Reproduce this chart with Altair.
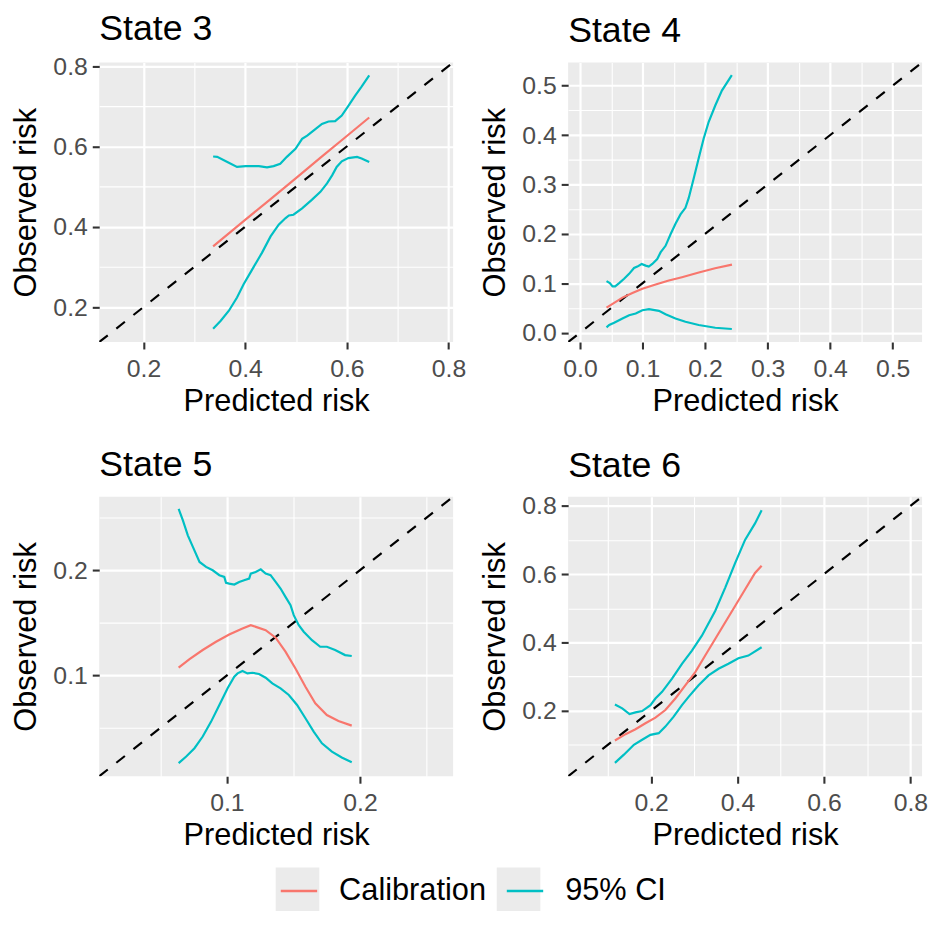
import altair as alt
import pandas as pd

FONT = "Liberation Sans"
CAL_COLOR = "#F8766D"
CI_COLOR = "#00BFC4"
PANEL_BG = "#EBEBEB"

states = ["State 3", "State 4", "State 5", "State 6"]
legend_labels = ["Calibration", "95% CI"]

# ---------------- State 3 ----------------
s3_cal_x = [0.337, 0.400, 0.450, 0.500, 0.550, 0.600, 0.644]
s3_cal_y = [0.351, 0.417, 0.469, 0.521, 0.574, 0.626, 0.672]
s3_up_x = [0.337, 0.345, 0.365, 0.384, 0.401, 0.427, 0.443, 0.456, 0.469, 0.482, 0.499,
           0.512, 0.522, 0.535, 0.551, 0.564, 0.577, 0.590, 0.603, 0.616, 0.629, 0.644]
s3_up_y = [0.575, 0.574, 0.561, 0.549, 0.551, 0.551, 0.548, 0.551, 0.557, 0.574, 0.594,
           0.619, 0.627, 0.640, 0.656, 0.662, 0.663, 0.677, 0.701, 0.726, 0.749, 0.777]
s3_lo_x = [0.337, 0.352, 0.368, 0.384, 0.397, 0.414, 0.433, 0.450, 0.466, 0.479, 0.486, 0.495,
           0.512, 0.531, 0.548, 0.561, 0.571, 0.580, 0.590, 0.603, 0.620, 0.629, 0.644]
s3_lo_y = [0.146, 0.166, 0.191, 0.224, 0.257, 0.294, 0.335, 0.376, 0.405, 0.421, 0.428, 0.430,
           0.446, 0.467, 0.487, 0.508, 0.528, 0.549, 0.563, 0.571, 0.574, 0.570, 0.561]

# ---------------- State 4 ----------------
s4_cal_x = [0.0424, 0.0546, 0.0679, 0.0838, 0.0997, 0.121, 0.142, 0.163, 0.190, 0.216, 0.243]
s4_cal_y = [0.0508, 0.0602, 0.0709, 0.0802, 0.0889, 0.0976, 0.1056, 0.1123, 0.1217, 0.1303, 0.1377]
s4_up_x = [0.0424, 0.0477, 0.0520, 0.0562, 0.0626, 0.0705, 0.0785, 0.0864, 0.0917, 0.0986,
           0.105, 0.110, 0.1156, 0.1235, 0.1288, 0.1368, 0.1448, 0.1527, 0.1607, 0.1686,
           0.1739, 0.1819, 0.1898, 0.1978, 0.2057, 0.2163, 0.2269, 0.2428]
s4_up_y = [0.1043, 0.1003, 0.0936, 0.0936, 0.1003, 0.109, 0.119, 0.131, 0.1337, 0.139,
           0.1357, 0.1337, 0.139, 0.149, 0.1624, 0.1758, 0.1992, 0.2206, 0.2393, 0.2527,
           0.2727, 0.3128, 0.3529, 0.393, 0.4265, 0.4599, 0.490, 0.5214]
s4_lo_x = [0.0424, 0.0467, 0.0546, 0.0679, 0.0785, 0.0891, 0.0997, 0.1103, 0.1262, 0.1368,
           0.1527, 0.1686, 0.1898, 0.2163, 0.2428]
s4_lo_y = [0.0107, 0.0154, 0.0201, 0.0287, 0.0354, 0.0388, 0.0455, 0.0475, 0.0441, 0.0374,
           0.0287, 0.0221, 0.0154, 0.0100, 0.0074]

# ---------------- State 5 ----------------
s5_cal_x = [0.0637, 0.0719, 0.0818, 0.0918, 0.1017, 0.1117, 0.1179, 0.1291, 0.1366, 0.1440,
            0.1515, 0.1590, 0.1664, 0.1751, 0.1838, 0.1938]
s5_cal_y = [0.1073, 0.1155, 0.1241, 0.1320, 0.1389, 0.1446, 0.1478, 0.1430, 0.1358, 0.1225,
            0.1066, 0.0892, 0.0734, 0.0623, 0.0566, 0.0522]
s5_up_x = [0.0637, 0.0669, 0.0706, 0.0744, 0.0794, 0.0843, 0.0893, 0.0943, 0.0980, 0.0993,
           0.1017, 0.1055, 0.1092, 0.1129, 0.1167, 0.1179, 0.1216, 0.1254, 0.1291, 0.1328,
           0.1366, 0.1403, 0.1440, 0.1478, 0.1502, 0.1540, 0.1577, 0.1639, 0.1701, 0.1751,
           0.1813, 0.1888, 0.1938]
s5_up_y = [0.2585, 0.2475, 0.2332, 0.2222, 0.2079, 0.2032, 0.2000, 0.1953, 0.1937, 0.1880,
           0.1873, 0.1864, 0.1889, 0.1905, 0.1921, 0.1968, 0.1984, 0.2009, 0.1968, 0.1953,
           0.1889, 0.1826, 0.1747, 0.1668, 0.1573, 0.1478, 0.1415, 0.1335, 0.1272, 0.1272,
           0.1241, 0.1193, 0.1184]
s5_lo_x = [0.0637, 0.0694, 0.0756, 0.0818, 0.0881, 0.0943, 0.1005, 0.1055, 0.1080, 0.1117,
           0.1154, 0.1192, 0.1241, 0.1291, 0.1341, 0.1403, 0.1465, 0.1527, 0.1590, 0.1652,
           0.1714, 0.1789, 0.1863, 0.1938]
s5_lo_y = [0.0165, 0.0228, 0.0307, 0.0418, 0.0560, 0.0718, 0.0877, 0.0987, 0.1019, 0.1041,
           0.1019, 0.1025, 0.1013, 0.0978, 0.0924, 0.0877, 0.0813, 0.0718, 0.0592, 0.0465,
           0.0354, 0.0275, 0.0218, 0.0174]

# ---------------- State 6 ----------------
s6_cal_x = [0.1163, 0.1408, 0.1639, 0.1869, 0.2100, 0.2330, 0.2561, 0.2791, 0.3022, 0.3252,
            0.3483, 0.3713, 0.3944, 0.4174, 0.4405, 0.4558]
s6_cal_y = [0.1129, 0.1313, 0.1458, 0.1632, 0.1797, 0.2019, 0.2358, 0.2745, 0.3132, 0.3616,
            0.4100, 0.4584, 0.5068, 0.5552, 0.6036, 0.6249]
s6_up_x = [0.1163, 0.1332, 0.1501, 0.1639, 0.1793, 0.1985, 0.2100, 0.2254, 0.2484, 0.2714,
           0.2945, 0.3175, 0.3483, 0.3713, 0.3944, 0.4174, 0.4405, 0.4558]
s6_up_y = [0.2184, 0.2068, 0.1903, 0.1952, 0.1990, 0.2165, 0.2358, 0.2552, 0.2939, 0.3374,
           0.3761, 0.4197, 0.4923, 0.5600, 0.6326, 0.7003, 0.7487, 0.7874]
s6_lo_x = [0.1163, 0.1370, 0.1601, 0.1793, 0.1985, 0.2177, 0.2330, 0.2522, 0.2714, 0.2868,
           0.3099, 0.3329, 0.3560, 0.3790, 0.4020, 0.4251, 0.4558]
s6_lo_y = [0.0471, 0.0713, 0.1003, 0.1148, 0.1294, 0.1342, 0.1535, 0.1826, 0.2165, 0.2406,
           0.2745, 0.3036, 0.3229, 0.3374, 0.3539, 0.3616, 0.3858]

# axis limits and tick/grid values
s3_domain = [0.113, 0.809]
s4_domain = [-0.019, 0.547]
s5_domain = [0.004, 0.270]
s6_domain = [0.008, 0.827]

s3_major = [0.2, 0.4, 0.6, 0.8]
s3_minor = [0.3, 0.5, 0.7]
s4_major = [0.0, 0.1, 0.2, 0.3, 0.4, 0.5]
s4_minor = [0.05, 0.15, 0.25, 0.35, 0.45]
s5_major = [0.1, 0.2]
s5_minor = [0.05, 0.15, 0.25]
s6_major = [0.2, 0.4, 0.6, 0.8]
s6_minor = [0.1, 0.3, 0.5, 0.7]


def build_df(cal_x, cal_y, up_x, up_y, lo_x, lo_y):
    parts = [
        pd.DataFrame({"x": cal_x, "y": cal_y, "type": legend_labels[0], "line": "cal"}),
        pd.DataFrame({"x": up_x, "y": up_y, "type": legend_labels[1], "line": "upper"}),
        pd.DataFrame({"x": lo_x, "y": lo_y, "type": legend_labels[1], "line": "lower"}),
    ]
    df = pd.concat(parts, ignore_index=True)
    df["order"] = range(len(df))
    return df


def make_axis(title, major, minor, orient):
    test = "indexof([" + ",".join(repr(v) for v in major) + "], datum.value) >= 0"
    kw = dict(
        title=title,
        values=sorted(major + minor),
        format=".1f",
        labelExpr="(" + test + ") ? datum.label : ''",
        grid=True,
        gridColor="white",
        gridWidth={"condition": {"test": test, "value": 2.2}, "value": 1.1},
        tickOpacity={"condition": {"test": test, "value": 1}, "value": 0},
        domain=False,
        ticks=True,
        tickColor="#333333",
        tickWidth=2.1,
        tickSize=7,
        labelFont=FONT,
        labelFontSize=25,
        labelColor="#4D4D4D",
        labelFlush=False,
        labelOverlap=False,
        titleFont=FONT,
        titleFontSize=31,
        titleFontWeight="normal",
        titleColor="black",
    )
    if orient == "x":
        kw.update(labelPadding=8, titlePadding=5)
    else:
        kw.update(labelPadding=5, titlePadding=8, minExtent=49, maxExtent=49)
    return alt.Axis(**kw)


LEG_X = 178
LEG_Y = 812
KEY_SIZE = 44 * 44
LABEL_GAP = 17
ENTRY_GAP = 14
CAL_LABEL_W = 148  # width of "Calibration" at 31px Liberation Sans

color_scale = alt.Scale(domain=legend_labels, range=[CAL_COLOR, CI_COLOR])
color_legend = alt.Legend(
    title=None,
    orient="none",
    direction="horizontal",
    legendX=LEG_X,
    legendY=LEG_Y,
    symbolSize=KEY_SIZE,
    symbolType="M-0.834,0H0.834",
    symbolStrokeWidth=2.6,
    labelFont=FONT,
    labelFontSize=31,
    labelColor="black",
    labelOffset=LABEL_GAP,
    columnPadding=ENTRY_GAP,
    zindex=2,
)

# grey key boxes behind the legend lines (ggplot style legend keys);
# they use their own domain so that Vega-Lite keeps the two legends apart
key_domain = [lab + "#key" for lab in legend_labels]
key_scale = alt.Scale(domain=key_domain, range=[PANEL_BG, PANEL_BG])
key_legend = alt.Legend(
    title=None,
    orient="none",
    direction="horizontal",
    legendX=LEG_X,
    legendY=LEG_Y,
    symbolSize=KEY_SIZE,
    symbolType="square",
    symbolStrokeWidth=0,
    symbolOpacity=1,
    labelExpr="''",
    labelFont=FONT,
    labelFontSize=31,
    labelOffset=LABEL_GAP,
    columnPadding=ENTRY_GAP + CAL_LABEL_W,
    zindex=1,
)
key_df = pd.DataFrame({"key": key_domain})


def panel(name, df, domain, major, minor, title_dy):
    xs = alt.Scale(domain=domain, nice=False, zero=False)
    ys = alt.Scale(domain=domain, nice=False, zero=False)
    x = alt.X("x:Q", scale=xs, axis=make_axis("Predicted risk", major, minor, "x"))
    y = alt.Y("y:Q", scale=ys, axis=make_axis("Observed risk", major, minor, "y"))
    diag_df = pd.DataFrame({"x": domain, "y": domain})
    diag = alt.Chart(diag_df).mark_line(
        color="black", strokeDash=[11, 11], strokeWidth=2.2, clip=True
    ).encode(x=x, y=y)
    lines = alt.Chart(df).mark_line(strokeWidth=2.2, clip=True).encode(
        x=x,
        y=y,
        color=alt.Color("type:N", scale=color_scale, legend=color_legend),
        detail="line:N",
        order="order:Q",
    )
    return alt.layer(diag, lines).properties(
        width=357,
        height=282,
        title=alt.Title(
            name, anchor="start", frame="group", font=FONT, fontSize=36,
            fontWeight="normal", color="black", offset=13, dy=title_dy,
        ),
    )


p3 = panel(states[0], build_df(s3_cal_x, s3_cal_y, s3_up_x, s3_up_y, s3_lo_x, s3_lo_y),
           s3_domain, s3_major, s3_minor, 7)
p4 = panel(states[1], build_df(s4_cal_x, s4_cal_y, s4_up_x, s4_up_y, s4_lo_x, s4_lo_y),
           s4_domain, s4_major, s4_minor, 0)
p5 = panel(states[2], build_df(s5_cal_x, s5_cal_y, s5_up_x, s5_up_y, s5_lo_x, s5_lo_y),
           s5_domain, s5_major, s5_minor, 0)
p6 = panel(states[3], build_df(s6_cal_x, s6_cal_y, s6_up_x, s6_up_y, s6_lo_x, s6_lo_y),
           s6_domain, s6_major, s6_minor, 4)

# tiny empty view that only carries the legend of grey key boxes
key_view = alt.Chart(key_df).mark_point(filled=True, opacity=1, shape="square").encode(
    fill=alt.Fill("key:N", scale=key_scale, legend=key_legend)
).transform_filter("false").properties(
    width=1, height=1, view=alt.ViewBackground(fillOpacity=0, strokeWidth=0)
)

chart = alt.concat(
    p3, p4, p5, p6, key_view, columns=2, align="each", spacing={"row": 31, "column": 14}
).properties(
    padding={"top": -1, "left": 3, "right": 0, "bottom": 0}
).configure(
    background="white"
).configure_view(
    fill=PANEL_BG, strokeWidth=0
)

chart.save("out.html", embed_options={"renderer": "svg", "actions": False})
